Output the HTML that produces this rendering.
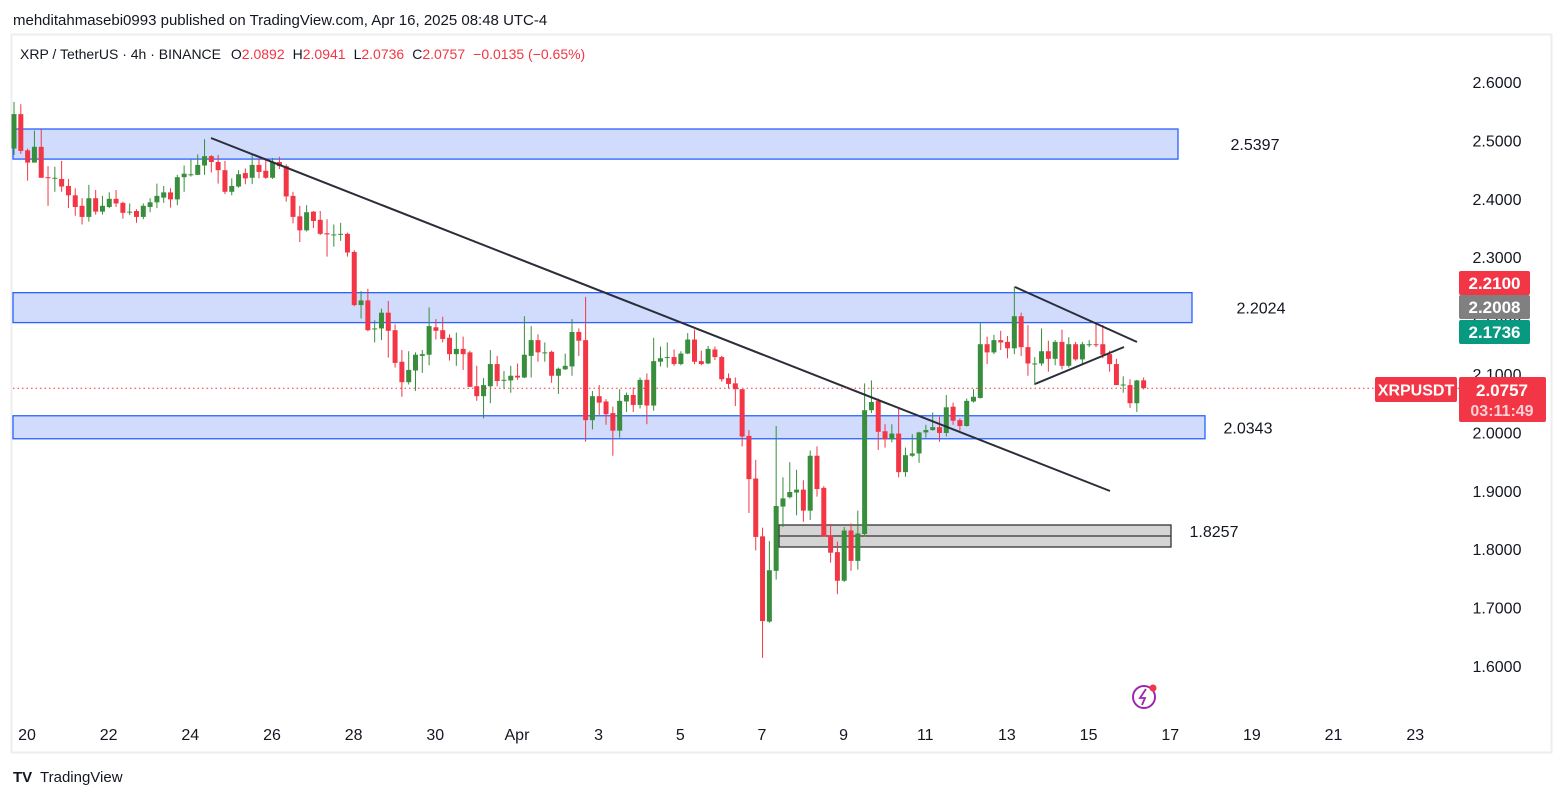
<!DOCTYPE html>
<html><head><meta charset="utf-8"><style>
body{margin:0;background:#fff;width:1563px;height:798px;overflow:hidden;font-family:"Liberation Sans",sans-serif}
svg{position:absolute;left:0;top:0}
</style></head><body>
<svg id="chart" width="1563" height="798" xmlns="http://www.w3.org/2000/svg">
<text x="13" y="25" font-size="15" fill="#131722">mehditahmasebi0993 published on TradingView.com, Apr 16, 2025 08:48 UTC-4</text>
<rect x="11.5" y="34.5" width="1540" height="718" fill="none" stroke="#eeeeee" stroke-width="2"/>
<text x="20" y="59" font-size="14" fill="#131722">XRP / TetherUS · 4h · BINANCE <tspan dx="6">O</tspan><tspan fill="#f23645">2.0892</tspan><tspan dx="8">H</tspan><tspan fill="#f23645">2.0941</tspan><tspan dx="8">L</tspan><tspan fill="#f23645">2.0736</tspan><tspan dx="8">C</tspan><tspan fill="#f23645">2.0757</tspan><tspan dx="8" fill="#f23645">−0.0135 (−0.65%)</tspan></text>
<g id="zones"></g>
<g id="candles"></g>
<g id="lines"></g>
<g id="axis"></g>
<g id="tags"></g>
<g>
<circle cx="1144" cy="697" r="11" fill="none" stroke="#9c27b0" stroke-width="2"/>
<path d="M1146 689 L1140 698 L1145 698 L1142 705" fill="none" stroke="#9c27b0" stroke-width="1.8"/>
<circle cx="1153" cy="688" r="3.5" fill="#f23645"/>
</g>
<g>
<text x="13" y="782" font-size="15" font-weight="bold" fill="#131722">TV</text>
<text x="40" y="782" font-size="15" fill="#131722">TradingView</text>
</g>
</svg>
<script>
const opens=[2.486,2.545,2.483,2.462,2.489,2.437,2.436,2.434,2.422,2.406,2.388,2.369,2.401,2.378,2.386,2.400,2.393,2.378,2.379,2.369,2.386,2.394,2.402,2.411,2.399,2.437,2.442,2.441,2.457,2.473,2.463,2.449,2.412,2.421,2.444,2.436,2.458,2.448,2.436,2.463,2.456,2.405,2.370,2.346,2.378,2.364,2.341,2.339,2.340,2.340,2.309,2.218,2.226,2.178,2.178,2.205,2.175,2.121,2.086,
2.106,2.131,2.133,2.180,2.175,2.162,2.134,2.143,2.137,2.079,2.062,2.079,2.117,2.090,2.089,2.097,2.094,2.131,2.158,2.137,2.138,2.097,2.108,2.113,2.172,2.158,2.021,2.062,2.053,2.033,2.003,2.053,2.064,2.047,2.090,2.046,2.121,2.129,2.129,2.117,2.135,2.159,2.122,2.118,2.142,2.129,2.093,2.084,2.074,1.994,1.921,1.822,1.676,1.763,1.873,1.889,1.897,1.902,1.866,1.960,1.905,1.824,1.795,1.746,1.832,1.780,1.826,2.038,2.054,2.002,1.988,1.998,1.932,1.960,1.964,2.000,2.004,2.009,1.999,2.044,2.021,2.011,2.053,2.059,2.151,2.137,2.158,2.155,2.144,2.199,2.146,2.118,2.118,2.139,2.126,2.155,2.114,2.151,2.125,2.151,2.151,2.151,2.134,2.117,2.082,2.081,2.050,2.0892];
const highs=[2.566,2.562,2.486,2.517,2.519,2.456,2.455,2.465,2.434,2.418,2.401,2.424,2.415,2.405,2.411,2.415,2.395,2.392,2.382,2.392,2.401,2.426,2.422,2.418,2.441,2.457,2.467,2.476,2.502,2.475,2.475,2.465,2.435,2.449,2.452,2.475,2.469,2.470,2.470,2.472,2.459,2.412,2.388,2.389,2.379,2.379,2.365,2.356,2.359,2.342,2.312,2.242,2.246,2.192,2.212,2.225,2.185,2.141,2.139,
2.137,2.141,2.214,2.194,2.198,2.168,2.171,2.164,2.140,2.114,2.093,2.141,2.131,2.105,2.114,2.118,2.199,2.182,2.168,2.154,2.140,2.111,2.135,2.194,2.178,2.232,2.071,2.081,2.057,2.044,2.074,2.068,2.077,2.094,2.101,2.162,2.147,2.154,2.142,2.139,2.170,2.176,2.140,2.148,2.147,2.131,2.101,2.094,2.074,2.004,1.953,1.837,1.814,2.011,1.923,1.949,1.936,1.918,1.969,1.976,1.908,1.843,1.813,1.838,1.844,1.866,2.084,2.089,2.058,2.014,2.014,2.043,1.974,1.997,2.001,2.013,2.034,2.027,2.064,2.051,2.024,2.058,2.074,2.187,2.164,2.167,2.174,2.165,2.250,2.205,2.184,2.129,2.178,2.157,2.158,2.176,2.163,2.155,2.155,2.158,2.186,2.184,2.140,2.126,2.096,2.091,2.090,2.0941];
const lows=[2.475,2.477,2.431,2.462,2.436,2.388,2.412,2.412,2.384,2.371,2.356,2.361,2.373,2.373,2.384,2.386,2.366,2.372,2.359,2.365,2.377,2.384,2.393,2.385,2.389,2.412,2.438,2.441,2.441,2.445,2.426,2.408,2.406,2.419,2.425,2.425,2.435,2.434,2.434,2.451,2.395,2.358,2.326,2.344,2.350,2.338,2.301,2.318,2.328,2.301,2.216,2.195,2.173,2.154,2.158,2.128,2.111,2.061,2.082,
2.071,2.102,2.115,2.159,2.154,2.123,2.114,2.107,2.078,2.054,2.024,2.050,2.079,2.074,2.068,2.090,2.093,2.094,2.121,2.121,2.085,2.066,2.107,2.097,2.131,1.984,2.005,2.030,2.013,1.960,1.991,2.035,2.035,2.041,2.014,2.037,2.113,2.111,2.114,2.115,2.134,2.117,2.115,2.117,2.124,2.087,2.075,2.045,1.976,1.862,1.798,1.614,1.674,1.748,1.838,1.887,1.858,1.847,1.850,1.890,1.821,1.777,1.723,1.744,1.763,1.765,1.822,2.033,1.970,1.974,1.983,1.923,1.924,1.958,1.948,1.991,2.003,1.984,1.993,2.013,2.003,2.010,2.051,2.058,2.117,2.134,2.141,2.127,2.134,2.131,2.097,2.081,2.114,2.104,2.115,2.108,2.111,2.123,2.117,2.146,2.146,2.127,2.104,2.081,2.068,2.042,2.035,2.0736];
const closes=[2.545,2.482,2.462,2.489,2.436,2.436,2.436,2.421,2.406,2.386,2.369,2.401,2.378,2.388,2.400,2.392,2.376,2.378,2.369,2.388,2.394,2.405,2.411,2.399,2.437,2.443,2.442,2.458,2.473,2.463,2.449,2.412,2.422,2.442,2.435,2.458,2.446,2.436,2.463,2.456,2.404,2.369,2.346,2.377,2.362,2.340,2.339,2.339,2.340,2.308,2.218,2.226,2.175,2.178,2.205,2.174,2.119,2.086,2.107,
2.133,2.134,2.182,2.174,2.160,2.134,2.143,2.134,2.078,2.062,2.081,2.117,2.088,2.090,2.097,2.094,2.133,2.158,2.137,2.137,2.097,2.109,2.114,2.172,2.157,2.021,2.062,2.051,2.031,2.003,2.054,2.064,2.047,2.090,2.046,2.122,2.127,2.129,2.117,2.135,2.159,2.121,2.117,2.143,2.129,2.091,2.083,2.074,1.993,1.920,1.821,1.677,1.764,1.874,1.887,1.898,1.902,1.866,1.960,1.903,1.822,1.794,1.746,1.832,1.780,1.827,2.038,2.052,2.001,1.988,1.998,1.932,1.961,1.964,2.000,2.004,2.009,1.999,2.043,2.020,2.011,2.054,2.061,2.151,2.137,2.158,2.154,2.144,2.199,2.146,2.118,2.118,2.139,2.126,2.155,2.114,2.151,2.125,2.151,2.151,2.150,2.133,2.117,2.081,2.082,2.050,2.089,2.0757];
const priceTicks=[2.6,2.5,2.4,2.3,2.2,2.1,2.0,1.9,1.8,1.7,1.6];
const dateLabels=["20","22","24","26","28","30","Apr","3","5","7","9","11","13","15","17","19","21","23"];
const zonePrices=[[2.5195,2.468],[2.2393,2.188],[2.0285,1.9891]];
const zoneLabels=["2.5397","2.2024","2.0343"];

const NS="http://www.w3.org/2000/svg";
const yS=p=>82+(2.6-p)*584;
const xS=i=>14+i*6.805;
const dayX=d=>27+d*40.83;
function mk(tag,attrs,parent,txt){const e=document.createElementNS(NS,tag);for(const k in attrs)e.setAttribute(k,attrs[k]);if(txt!==undefined)e.textContent=txt;document.getElementById(parent).appendChild(e);return e;}

const zoneX2=[1178,1192,1205], zoneLX=[1255,1261,1248];
zonePrices.forEach((z,k)=>{
 const r=mk('rect',{x:13,y:yS(z[0]),width:zoneX2[k]-13,height:yS(z[1])-yS(z[0]),fill:'#d1dcfd',stroke:'#2962ff','stroke-width':1.3},'zones');
 
 
 const t=mk('text',{x:zoneLX[k],y:(yS(z[0])+yS(z[1]))/2+6,'font-size':16,fill:'#131722','text-anchor':'middle'},'zones',zoneLabels[k]);
 
 
});
const g=mk('rect',{x:779,y:525,width:392,height:22,fill:'#d4d4d4',stroke:'#333','stroke-width':1.3},'zones');


mk('line',{x1:779,y1:536,x2:1171,y2:536,stroke:'#333','stroke-width':1.3},'zones');
const gl=mk('text',{x:1214,y:537,'font-size':16,fill:'#131722','text-anchor':'middle'},'zones','1.8257');



for(let i=0;i<closes.length;i++){
 const up=closes[i]>=opens[i], col=up?'#388e3c':'#f23645', x=xS(i);
 const w=mk('line',{x1:x,x2:x,y1:yS(highs[i]),y2:yS(lows[i]),stroke:col,'stroke-width':1},'candles');
 
 
 const t=yS(Math.max(opens[i],closes[i])),b=yS(Math.min(opens[i],closes[i]));
 const r=mk('rect',{x:x-2.5,y:t,width:5,height:Math.max(1,b-t),fill:col},'candles');
 
 
}

[[211,138,1110,491],[1015,287,1137,342],[1035,384,1124,347]].forEach(l=>{
 const e=mk('line',{x1:l[0],y1:l[1],x2:l[2],y2:l[3],stroke:'#2a2e39','stroke-width':2},'lines');
 
 
});
const last=closes[closes.length-1];
const pl=mk('line',{x1:13,x2:1460,y1:yS(last),y2:yS(last),stroke:'#f23645','stroke-width':1,'stroke-dasharray':'1.5 3'},'lines');



priceTicks.forEach(p=>{
 const t=mk('text',{x:1497,y:yS(p)+6,'font-size':16,fill:'#131722','text-anchor':'middle'},'axis',p.toFixed(4));
 
 
});
dateLabels.forEach((d,k)=>{
 const t=mk('text',{x:dayX(k*2),y:740,'font-size':16,fill:'#131722','text-anchor':'middle'},'axis',d);
 
 
});

function tag(x,y,w,h,fill,txt,name,fs){
 const r=mk('rect',{x:x,y:y,width:w,height:h,fill:fill,rx:2},'tags');
 
 
 const t=mk('text',{x:x+w/2,y:y+h/2+6,'font-size':fs||17,fill:'#fff','text-anchor':'middle','font-weight':'bold'},'tags',txt);
 
 
}
tag(1459,271,71,24,'#f23645','2.2100','high-tag');
tag(1459,295,71,24,'#808080','2.2008','mid-tag');
tag(1459,320,71,24,'#089981','2.1736','low-tag');
tag(1375,377,82,25,'#f23645','XRPUSDT','symbol-tag',16);
const r=mk('rect',{x:1459,y:377,width:87,height:45,fill:'#f23645',rx:2},'tags');


const t1=mk('text',{x:1502,y:396,'font-size':17,fill:'#fff','text-anchor':'middle','font-weight':'bold'},'tags',last.toFixed(4));


const t2=mk('text',{x:1502,y:416,'font-size':16,fill:'#fbd0d5','text-anchor':'middle','font-weight':'bold'},'tags','03:11:49');


</script>
</body></html>
